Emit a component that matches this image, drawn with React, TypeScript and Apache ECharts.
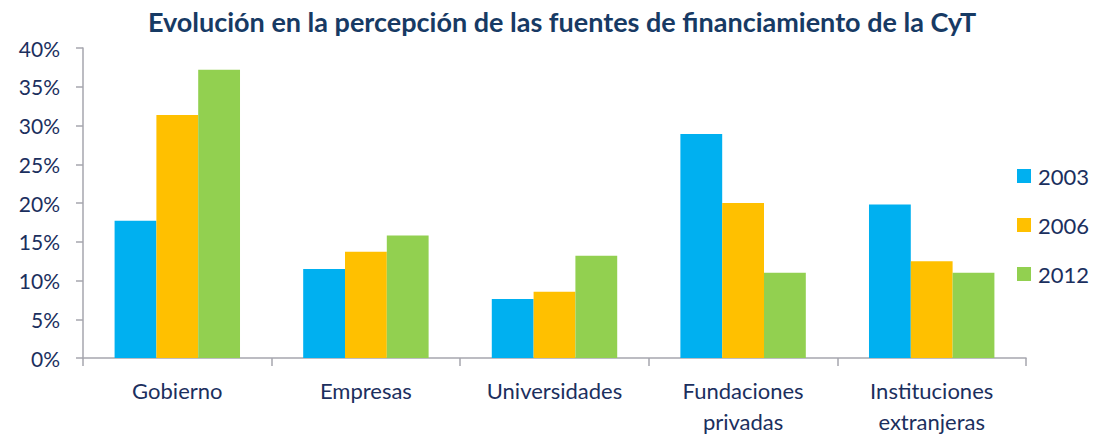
import React, { useEffect, useRef } from "react";
import * as echarts from "echarts";

const categories = ["Gobierno", "Empresas", "Universidades", "Fundaciones\nprivadas", "Instituciones\nextranjeras"];
const years = ["2003", "2006", "2012"];
const values2003 = [17.7, 11.5, 7.6, 28.9, 19.8];
const values2006 = [31.35, 13.7, 8.55, 20.0, 12.5];
const values2012 = [37.2, 15.8, 13.2, 11.0, 11.0];
const colors = ["#00B0F0", "#FFC000", "#92D050"];
const yTicks = [0, 5, 10, 15, 20, 25, 30, 35, 40];

const textColor = "#1B2F5E";
const font = "Lato, 'Open Sans', sans-serif";

export default function App() {
  const ref = useRef<HTMLDivElement>(null);
  useEffect(() => {
    document.body.style.margin = "0";
    const chart = echarts.init(ref.current!, null, { renderer: "svg" });
    const seriesData = [values2003, values2006, values2012];
    chart.setOption({
      animation: false,
      backgroundColor: "#FFFFFF",
      title: {
        text: "Evolución en la percepción de las fuentes de financiamiento de la CyT",
        left: 557,
        textAlign: "center",
        top: 3,
        textStyle: { fontFamily: font, fontWeight: "bold", fontSize: 27, color: "#173A64" },
      },
      legend: {
        orient: "vertical",
        left: 1012,
        top: 160,
        itemWidth: 14,
        itemHeight: 14,
        itemGap: 27,
        icon: "rect",
        data: years,
        textStyle: { fontFamily: font, fontSize: 22, color: textColor, padding: [0, 0, 0, 2] },
      },
      grid: { left: 83, right: 69, top: 48, bottom: 78, containLabel: false, outerBoundsMode: "none" },
      xAxis: {
        type: "category",
        data: categories,
        axisLine: { lineStyle: { color: "#A6A6AE", width: 1.5 } },
        axisTick: { show: true, length: 8, alignWithLabel: false, lineStyle: { color: "#A6A6AE", width: 1.5 } },
        axisLabel: {
          fontFamily: font,
          fontSize: 22,
          color: textColor,
          margin: 17,
          lineHeight: 31,
          interval: 0,
        },
      },
      yAxis: {
        type: "value",
        min: 0,
        max: 40,
        interval: 5,
        splitLine: { show: false },
        axisLine: { show: true, lineStyle: { color: "#A6A6AE", width: 1.5 } },
        axisTick: { show: true, inside: false, length: 7, lineStyle: { color: "#A6A6AE", width: 1.5 } },
        axisLabel: {
          fontFamily: font,
          fontSize: 21,
          color: textColor,
          margin: 23,
          formatter: (v: number) => (yTicks.includes(v) ? v + "%" : ""),
        },
      },
      series: years.map((y, i) => ({
        name: y,
        type: "bar",
        data: seriesData[i],
        barGap: "0%",
        barCategoryGap: "33.5%",
        itemStyle: { color: colors[i] },
      })),
    });
    return () => chart.dispose();
  }, []);
  return <div ref={ref} style={{ width: 1095, height: 436 }} />;
}
